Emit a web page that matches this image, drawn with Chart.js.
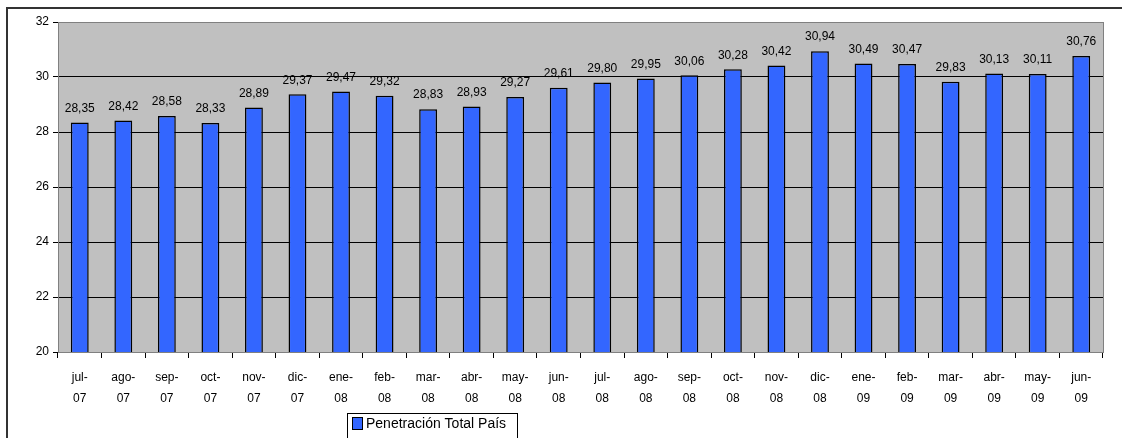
<!DOCTYPE html>
<html lang="es">
<head>
    <meta charset="UTF-8">
    <title>Penetración Total País</title>
    <script src="https://cdn.jsdelivr.net/npm/chart.js"></script>
    <style>
        body { margin: 0; background: #fff; }
        #wrap { width: 1122px; height: 438px; position: relative; }
    </style>
</head>
<body>
    <div id="wrap"><canvas id="penChart" width="1122" height="438"></canvas></div>
    <script>
        // data
        const months = [
            ["jul-", "07"], ["ago-", "07"], ["sep-", "07"], ["oct-", "07"], ["nov-", "07"], ["dic-", "07"],
            ["ene-", "08"], ["feb-", "08"], ["mar-", "08"], ["abr-", "08"], ["may-", "08"], ["jun-", "08"],
            ["jul-", "08"], ["ago-", "08"], ["sep-", "08"], ["oct-", "08"], ["nov-", "08"], ["dic-", "08"],
            ["ene-", "09"], ["feb-", "09"], ["mar-", "09"], ["abr-", "09"], ["may-", "09"], ["jun-", "09"]
        ];
        const penetracion = [
            28.35, 28.42, 28.58, 28.33, 28.89, 29.37, 29.47, 29.32, 28.83, 28.93, 29.27, 29.61,
            29.80, 29.95, 30.06, 30.28, 30.42, 30.94, 30.49, 30.47, 29.83, 30.13, 30.11, 30.76
        ];
        const seriesName = "Penetración Total País";
        const yMin = 20, yMax = 32, yStep = 2;

        const FONT = "'Liberation Sans', Arial, sans-serif";

        function fmt(v) {
            return v.toFixed(2).replace(".", ",");
        }

        // grey plot background, frame and outer border
        const framePlugin = {
            id: "frame",
            beforeDraw(chart) {
                const a = chart.chartArea, ctx = chart.ctx;
                ctx.save();
                ctx.fillStyle = "#c0c0c0";
                ctx.fillRect(a.left, a.top, a.right - a.left, a.bottom - a.top);
                ctx.restore();
            },
            afterDraw(chart) {
                const a = chart.chartArea, ctx = chart.ctx;
                ctx.save();
                ctx.strokeStyle = "#808080";
                ctx.lineWidth = 1;
                ctx.strokeRect(Math.round(a.left) + 0.5, Math.round(a.top) + 0.5,
                    Math.round(a.right - a.left), Math.round(a.bottom - a.top));
                // outer chart border
                ctx.strokeStyle = "#333";
                ctx.lineWidth = 2;
                ctx.beginPath();
                ctx.moveTo(7, 440);
                ctx.lineTo(7, 8);
                ctx.lineTo(1124, 8);
                ctx.stroke();
                ctx.restore();
            }
        };

        // value labels above the bars
        const valuePlugin = {
            id: "values",
            afterDatasetsDraw(chart) {
                const ctx = chart.ctx;
                const meta = chart.getDatasetMeta(0);
                ctx.save();
                ctx.font = "12px " + FONT;
                ctx.fillStyle = "#000";
                ctx.textAlign = "center";
                ctx.textBaseline = "bottom";
                meta.data.forEach((bar, i) => {
                    ctx.fillText(fmt(penetracion[i]), bar.x, bar.y - 8);
                });
                ctx.restore();
            }
        };

        // legend box under the axis
        const legendPlugin = {
            id: "boxLegend",
            afterDraw(chart) {
                const ctx = chart.ctx;
                ctx.save();
                ctx.fillStyle = "#fff";
                ctx.fillRect(347, 413, 170, 30);
                ctx.strokeStyle = "#000";
                ctx.lineWidth = 1;
                ctx.strokeRect(347.5, 413.5, 170, 30);
                ctx.fillStyle = "#3366ff";
                ctx.fillRect(352, 417, 10, 13);
                ctx.strokeRect(352.5, 417.5, 10, 12);
                ctx.fillStyle = "#000";
                ctx.font = "14px " + FONT;
                ctx.textBaseline = "middle";
                ctx.fillText(seriesName, 366, 424);
                ctx.restore();
            }
        };

        new Chart(document.getElementById("penChart"), {
            type: "bar",
            data: {
                labels: months,
                datasets: [{
                    label: seriesName,
                    data: penetracion,
                    backgroundColor: "#3366ff",
                    borderColor: "#000",
                    borderWidth: 1.5,
                    barPercentage: 0.82,
                    categoryPercentage: 0.5
                }]
            },
            options: {
                responsive: false,
                animation: false,
                layout: { padding: { left: 0, top: 22, right: 19, bottom: 36 } },
                plugins: {
                    legend: { display: false },
                    tooltip: { enabled: false }
                },
                scales: {
                    x: {
                        afterFit(s) { s.height = 50; },
                        grid: {
                            drawOnChartArea: false,
                            drawTicks: true,
                            tickLength: 6,
                            color: "#000",
                            offset: true
                        },
                        border: { color: "#000" },
                        ticks: {
                            color: "#000",
                            padding: 9,
                            maxRotation: 0,
                            autoSkip: false,
                            font: { family: FONT, size: 12, lineHeight: 1.75 }
                        }
                    },
                    y: {
                        min: yMin,
                        max: yMax,
                        afterFit(s) { s.width = 58; },
                        grid: {
                            color: "#000",
                            lineWidth: 1,
                            tickLength: 5
                        },
                        border: { color: "#000" },
                        ticks: {
                            stepSize: yStep,
                            color: "#000",
                            padding: 4,
                            font: { family: FONT, size: 12 }
                        }
                    }
                }
            },
            plugins: [framePlugin, valuePlugin, legendPlugin]
        });
    </script>
</body>
</html>
